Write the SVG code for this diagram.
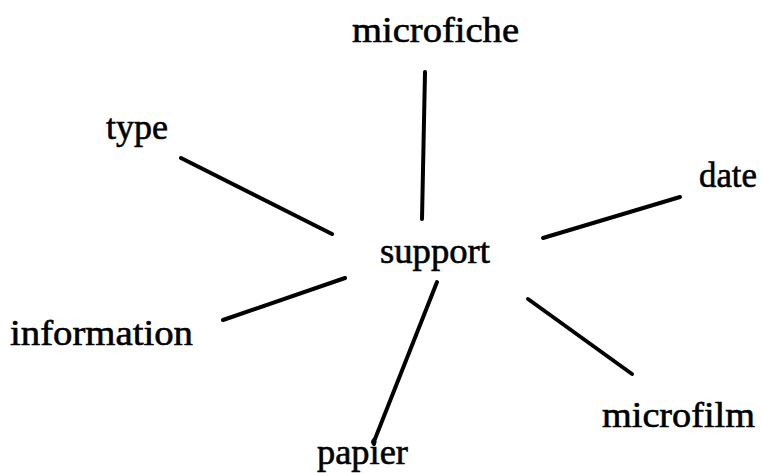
<svg xmlns="http://www.w3.org/2000/svg" width="761" height="473" viewBox="0 0 761 473">
  <style>
    .label { font-family: "Liberation Serif", "Times New Roman", serif; font-size: 36px; fill: #000; stroke: #000; stroke-width: 0.6; }
    .link { stroke: #000; stroke-width: 4; stroke-linecap: round; fill: none; }
  </style>
  <rect width="761" height="473" fill="#fff"/>

  <!-- spokes from the central concept -->
  <g id="connectors">
    <line class="link" x1="425" y1="72" x2="422" y2="219"/>
    <line class="link" x1="181" y1="158" x2="332" y2="234"/>
    <line class="link" x1="543" y1="238" x2="680" y2="197"/>
    <line class="link" x1="223" y1="320" x2="345" y2="278"/>
    <path class="link" d="M437 282 L375 439 Q372 442 374 444"/>
    <line class="link" x1="528" y1="299" x2="632" y2="374"/>
  </g>

  <g id="support"><text class="label" x="380" y="263" textLength="110" lengthAdjust="spacingAndGlyphs">support</text></g>
  <g id="microfiche"><text class="label" x="352" y="42" textLength="167" lengthAdjust="spacingAndGlyphs">microfiche</text></g>
  <g id="type"><text class="label" x="106" y="139" textLength="62" lengthAdjust="spacingAndGlyphs">type</text></g>
  <g id="date"><text class="label" x="699" y="187" textLength="58" lengthAdjust="spacingAndGlyphs">date</text></g>
  <g id="information"><text class="label" x="10" y="345" textLength="183" lengthAdjust="spacingAndGlyphs">information</text></g>
  <g id="papier"><text class="label" x="317" y="464" textLength="91" lengthAdjust="spacingAndGlyphs">papier</text></g>
  <g id="microfilm"><text class="label" x="602" y="427" textLength="153" lengthAdjust="spacingAndGlyphs">microfilm</text></g>
</svg>
